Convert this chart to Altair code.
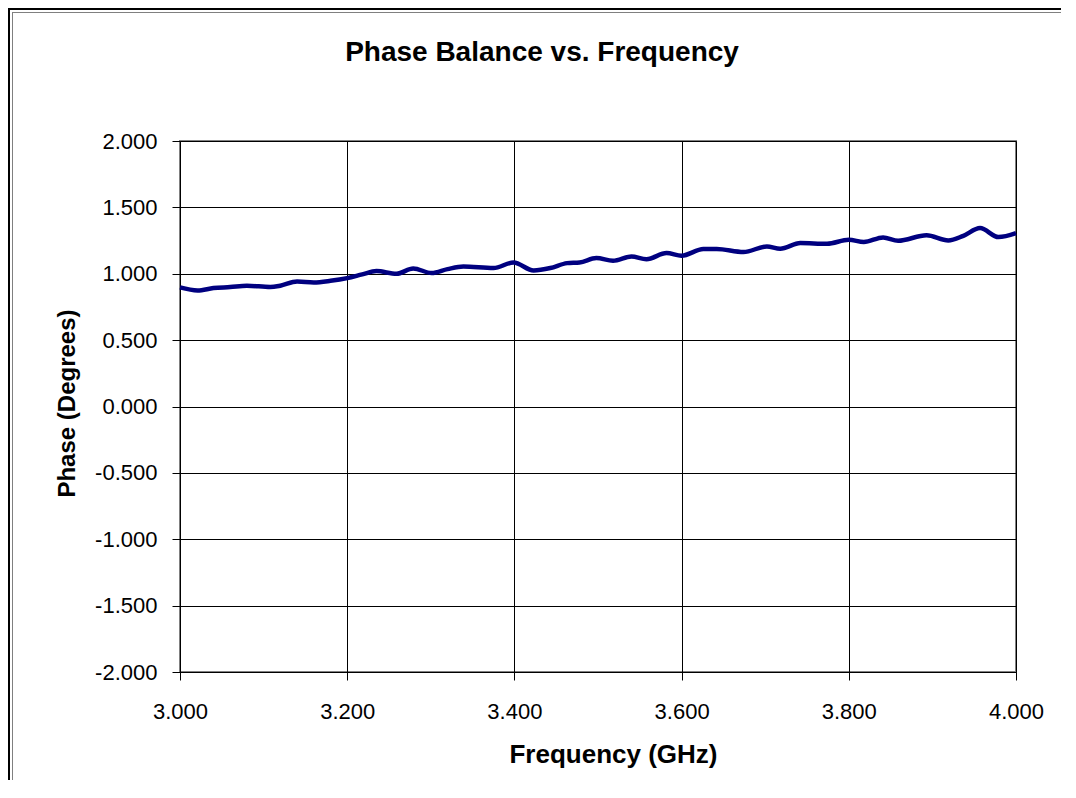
import altair as alt
import pandas as pd

freq = [3.000, 3.021, 3.040, 3.060, 3.080, 3.108, 3.120, 3.140, 3.160, 3.180,
        3.200, 3.218, 3.235, 3.259, 3.279, 3.301, 3.320, 3.339, 3.375, 3.399,
        3.423, 3.443, 3.463, 3.478, 3.498, 3.518, 3.540, 3.558, 3.582, 3.600,
        3.626, 3.642, 3.674, 3.702, 3.718, 3.742, 3.774, 3.800, 3.818, 3.841,
        3.859, 3.893, 3.919, 3.937, 3.957, 3.979, 4.000]
phase = [0.897, 0.874, 0.892, 0.900, 0.910, 0.900, 0.910, 0.942, 0.935, 0.947,
         0.967, 0.995, 1.020, 1.000, 1.040, 1.005, 1.035, 1.055, 1.043, 1.085,
         1.025, 1.043, 1.080, 1.085, 1.118, 1.098, 1.130, 1.110, 1.156, 1.136,
         1.186, 1.186, 1.163, 1.206, 1.188, 1.231, 1.226, 1.256, 1.239, 1.274,
         1.249, 1.290, 1.251, 1.286, 1.344, 1.276, 1.306]

x_ticks = [3.0, 3.2, 3.4, 3.6, 3.8, 4.0]
y_ticks = [-2.0, -1.5, -1.0, -0.5, 0.0, 0.5, 1.0, 1.5, 2.0]

df = pd.DataFrame({"freq": freq, "phase": phase})
deco = pd.DataFrame({"a": [0]})

FONT = "Liberation Sans"
W, H = 836, 531
label_expr = "replace(format(datum.value, '.3f'), '\u2212', '-')"

line = alt.Chart(df).mark_line(color="#000080", strokeWidth=4.5, interpolate="monotone").encode(
    x=alt.X("freq:Q",
            scale=alt.Scale(domain=[3.0, 4.0], nice=False, zero=False),
            axis=alt.Axis(values=x_ticks, labelExpr=label_expr, title="Frequency (GHz)",
                          tickSize=8, labelPadding=21, labelFontSize=22, labelFont=FONT,
                          labelColor="black", titleFont=FONT, titleFontSize=26,
                          titleFontWeight="bold", titleColor="black",
                          titleX=433, titleY=90, titleBaseline="alphabetic",
                          grid=True, gridColor="black", gridWidth=1,
                          domainColor="black", tickColor="black", labelFlush=False)),
    y=alt.Y("phase:Q",
            scale=alt.Scale(domain=[-2.0, 2.0], nice=False, zero=False),
            axis=alt.Axis(values=y_ticks, labelExpr=label_expr, title="Phase (Degrees)",
                          tickSize=8, labelPadding=15, labelFontSize=22, labelFont=FONT,
                          labelColor="black", titleFont=FONT, titleFontSize=24,
                          titleFontWeight="bold", titleColor="black",
                          titleX=-113, titleY=262, titleBaseline="middle", titleAlign="center",
                          grid=True, gridColor="black", gridWidth=1,
                          domainColor="black", tickColor="black", labelFlush=False)),
)

frame_v_outer = alt.Chart(deco).mark_rule(color="black", strokeWidth=2).encode(
    x=alt.value(-171), y=alt.value(-133), y2=alt.value(660))
frame_v_inner = alt.Chart(deco).mark_rule(color="#808080", strokeWidth=1).encode(
    x=alt.value(-167.5), y=alt.value(-129), y2=alt.value(660))
frame_h_outer = alt.Chart(deco).mark_rule(color="black", strokeWidth=2).encode(
    y=alt.value(-132), x=alt.value(-172), x2=alt.value(900))
frame_h_inner = alt.Chart(deco).mark_rule(color="#808080", strokeWidth=1).encode(
    y=alt.value(-128.5), x=alt.value(-168), x2=alt.value(900))

chart = alt.layer(line, frame_v_outer, frame_v_inner, frame_h_outer, frame_h_inner).properties(
    width=W, height=H,
    title=alt.TitleParams("Phase Balance vs. Frequency", font=FONT, fontSize=28,
                          fontWeight="bold", color="black", offset=-60, dx=-56),
    autosize=alt.AutoSizeParams(type="none"),
    padding={"left": 172, "top": 133, "right": 45, "bottom": 108},
    background="white",
).configure_view(stroke="#808080", strokeWidth=2)

chart.save("out.html", embed_options={"renderer": "svg", "actions": False})
